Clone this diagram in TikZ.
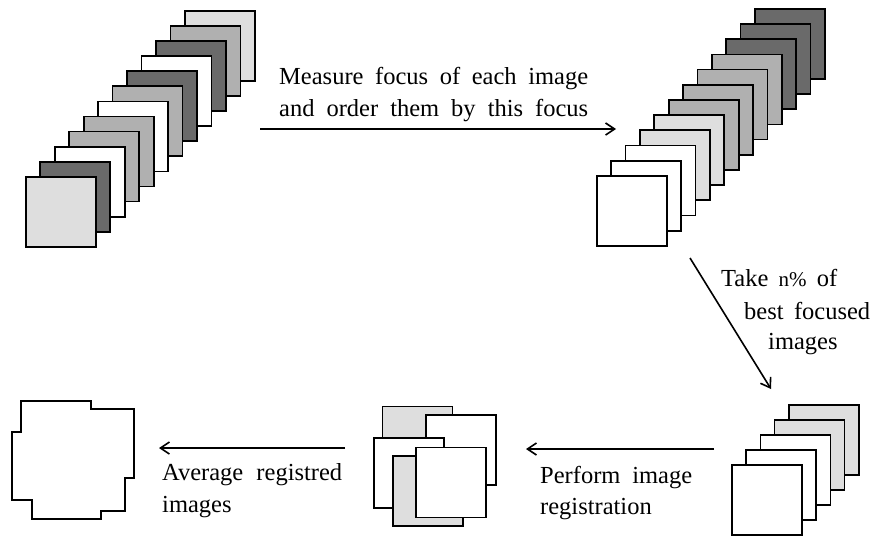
\documentclass[tikz,border=0pt]{standalone}
\usepackage{fontspec}
\setmainfont{Liberation Serif}
\usetikzlibrary{arrows.meta}
\definecolor{lgray}{HTML}{DEDEDE}
\definecolor{mgray}{HTML}{B0B0B0}
\definecolor{dgray}{HTML}{6A6A6A}
\tikzset{
  sq/.style={draw=black, line width=1.7pt, minimum size=70pt, inner sep=0pt, anchor=north west},
  flow/.style={draw=black, line width=1.6pt, -{Straight Barb[length=9pt,width=12pt,line width=1.6pt]}},
  lbl/.style={anchor=base west, inner sep=0pt, font=\fontsize{24.5}{32}\selectfont},
}
\begin{document}
\begin{tikzpicture}[x=1pt,y=-1pt]
\useasboundingbox[fill=white] (0,0) rectangle (874,536);

% left stack (back to front)
\foreach \i/\c in {11/lgray,10/mgray,9/dgray,8/white,7/dgray,6/mgray,5/white,4/mgray,3/mgray,2/white,1/dgray,0/lgray}
  \node[sq, fill=\c] (L\i) at ({25+14.45*\i},{176-15.09*\i}) {};

% right stack
\foreach \i/\c in {11/dgray,10/dgray,9/dgray,8/mgray,7/mgray,6/mgray,5/mgray,4/lgray,3/lgray,2/white,1/white,0/white}
  \node[sq, fill=\c] (R\i) at ({596+14.36*\i},{175-15.18*\i}) {};

% best focused stack
\foreach \i/\c in {4/lgray,3/lgray,2/white,1/white,0/white}
  \node[sq, fill=\c] (B\i) at ({731+14.25*\i},{464-15*\i}) {};

% registered images
\node[sq, fill=lgray] (G1) at (381.5,405.5) {};
\node[sq, fill=white] (G2) at (425,414) {};
\node[sq, fill=white] (G3) at (373,437) {};
\node[sq, fill=lgray] (G4) at (392,455) {};
\node[sq, fill=white] (G5) at (415,446.5) {};

% averaged image
\draw[line width=1.7pt, fill=white] (20.7,401) -- (90.7,401) -- (90.7,409) -- (134.3,409)
  -- (134.3,478.3) -- (125,478.3) -- (125,511) -- (100.7,511) -- (100.7,519)
  -- (31.7,519) -- (31.7,500) -- (12.3,500) -- (12.3,432.3) -- (20.7,432.3) -- cycle;

% connector end points
\coordinate (a1s) at (260,129);
\coordinate (a1e) at (616,129);
\coordinate (a2s) at (690,258);
\coordinate (a2e) at (771,389);
\coordinate (a3s) at (714,449);
\coordinate (a3e) at (526,449);
\coordinate (a4s) at (345,448);
\coordinate (a4e) at (159,448);

\draw[flow] (a1s) -- (a1e);
\draw[flow] (a2s) -- (a2e);
\draw[flow] (a3s) -- (a3e);
\draw[flow] (a4s) -- (a4e);

% labels
\node[lbl] (t1) at (279,84) {\makebox[309pt][s]{Measure focus of each image}};
\node[lbl] (t2) at (279,116) {\makebox[309pt][s]{and order them by this focus}};

\node[lbl] (t3) at (721,286) {\makebox[116pt][s]{Take {\fontsize{21}{21}\selectfont n\%} of}};
\node[lbl] (t4) at (744,319) {\makebox[126pt][s]{best focused}};
\node[lbl] (t5) at (768,349) {images};

\node[lbl] (t6) at (540,483) {\makebox[152pt][s]{Perform image}};
\node[lbl] (t7) at (540,514) {registration};

\node[lbl] (t8) at (162,480) {\makebox[180pt][s]{Average registred}};
\node[lbl] (t9) at (162,512) {images};
\end{tikzpicture}
\end{document}
